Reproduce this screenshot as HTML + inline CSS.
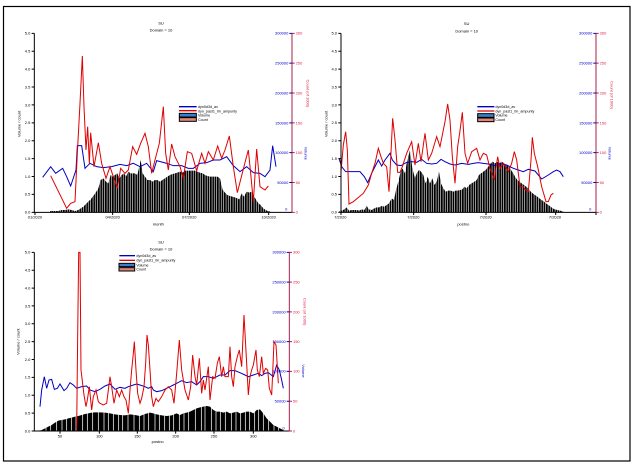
<!DOCTYPE html>
<html><head><meta charset="utf-8"><style>
html,body{margin:0;padding:0;background:#fff;}
svg{display:block;}
text{font-family:"Liberation Sans",sans-serif;}
</style></head><body>
<svg width="635" height="465" viewBox="0 0 635 465" xmlns="http://www.w3.org/2000/svg">
<defs>
<pattern id="bars" width="7" height="20" patternUnits="userSpaceOnUse"><rect x="0" y="0" width="5.3" height="20" fill="#000"/></pattern>
</defs>
<rect x="0" y="0" width="635" height="465" fill="#fff"/>
<rect x="3.5" y="6.5" width="626.5" height="454.5" fill="none" stroke="#000" stroke-width="1.2"/>

<!-- ================= CHART 1 ================= -->
<g transform="scale(0.33333)">
<polygon fill="url(#bars)" points="150,637 150,633 175,633 185,630 195,630 205,628 215,630 225,633 235,630 250,620 258,612 265,605 272,598 280,588 287,578 295,565 302,540 310,535 318,545 325,550 332,525 338,530 345,525 352,520 358,535 365,525 372,520 378,530 385,515 392,520 398,520 405,520 412,525 418,500 422,480 428,520 435,530 442,540 450,540 458,545 465,540 472,540 480,545 487,540 495,535 502,530 510,525 518,522 525,520 532,518 540,515 548,518 555,512 562,512 570,512 578,512 585,512 592,515 600,518 608,520 615,525 622,528 630,530 638,530 645,530 652,530 660,535 668,570 675,578 682,585 690,588 697,590 705,592 712,595 718,598 725,580 732,590 740,575 748,578 755,575 762,590 768,598 775,610 782,615 790,625 797,630 803,633 812,635 812,637"/>
<polyline fill="none" stroke="#0000c0" stroke-width="3" points="128,532 152,500 167,520 188,505 200,530 212,558 228,510 232,437 245,437 255,505 270,490 290,500 310,503 335,500 360,493 380,497 400,490 420,500 440,490 460,515 470,482 500,490 520,497 545,497 565,505 580,505 600,490 620,488 640,480 660,480 680,470 700,497 720,515 740,500 760,518 780,520 795,530 810,510 818,437 828,500"/>
<polyline fill="none" stroke="#e00000" stroke-width="3" points="152,527 200,625 212,610 225,605 232,460 240,310 247,168 252,320 258,450 263,380 268,490 272,398 282,500 295,428 305,490 318,535 330,500 340,530 352,565 362,505 375,520 385,510 398,440 410,463 422,430 435,400 445,440 455,520 465,480 478,430 490,320 497,460 505,510 515,432 525,470 540,500 550,535 562,455 575,460 590,512 605,460 615,490 625,455 640,480 653,438 665,475 675,450 688,408 700,500 712,578 725,527 737,480 745,450 752,520 760,605 770,447 780,560 795,570 805,558"/>
<!-- axes -->
<path d="M103 100V637H876" fill="none" stroke="#000" stroke-width="3"/>
<path d="M95 637H103M95 583.3H103M95 529.6H103M95 475.9H103M95 422.2H103M95 368.5H103M95 314.8H103M95 261.1H103M95 207.4H103M95 153.7H103M95 100H103" stroke="#000" stroke-width="3"/>
<path d="M105 637V645M338 637V645M568 637V645M806 637V645" stroke="#000" stroke-width="3"/>
<g font-size="12" text-anchor="end" fill="#000">
<text x="91" y="641">0.0</text><text x="91" y="587">0.5</text><text x="91" y="534">1.0</text><text x="91" y="480">1.5</text><text x="91" y="426">2.0</text><text x="91" y="372">2.5</text><text x="91" y="319">3.0</text><text x="91" y="265">3.5</text><text x="91" y="211">4.0</text><text x="91" y="158">4.5</text><text x="91" y="104">5.0</text>
</g>
<g font-size="12" text-anchor="middle" fill="#000">
<text x="105" y="656">01/2020</text><text x="338" y="656">04/2020</text><text x="568" y="656">07/2020</text><text x="806" y="656">10/2020</text>
<text x="475" y="677">month</text>
<text x="483" y="73">SU</text><text x="483" y="95">Domain = 10</text>
<text transform="translate(62,372) rotate(-90)">Volume / count</text>
</g>
<path d="M876 100V637" stroke="#a8204f" stroke-width="3"/>
<path d="M876 637H884M876 547.5H884M876 458H884M876 368.5H884M876 279H884M876 189.5H884M876 100H884" stroke="#a8204f" stroke-width="3"/>
<path d="M868 547.5H876M868 458H876M868 368.5H876M868 279H876M868 189.5H876M868 100H876" stroke="#0000c0" stroke-width="3"/>
<g font-size="12" fill="#e0204a">
<text x="887" y="641">0</text><text x="887" y="552">50</text><text x="887" y="462">100</text><text x="887" y="373">150</text><text x="887" y="283">200</text><text x="887" y="194">250</text><text x="887" y="104">300</text>
<text transform="translate(919,280) rotate(90)" text-anchor="middle">Count (of 1000)</text>
</g>
<g font-size="12" fill="#0000cc" text-anchor="end">
<text x="862" y="632">0</text><text x="865" y="552">50000</text><text x="865" y="462">100000</text><text x="865" y="373">150000</text><text x="865" y="283">200000</text><text x="865" y="194">250000</text><text x="865" y="104">300000</text>
<text transform="translate(914,460) rotate(90)" text-anchor="middle">Volume</text>
</g>
<!-- legend -->
<path d="M537 320H590" stroke="#0000c0" stroke-width="4"/>
<path d="M537 332H590" stroke="#e00000" stroke-width="4"/>
<rect x="538" y="340" width="51" height="11" fill="#3a80d0" stroke="#000" stroke-width="3"/>
<rect x="538" y="353" width="51" height="11" fill="#e08878" stroke="#000" stroke-width="3"/>
<g font-size="11" fill="#000">
<text x="594" y="324">dyn0d3d_av</text><text x="594" y="337">dyn_past1_0n_ampunty</text><text x="594" y="350">Volume</text><text x="594" y="363">Count</text>
</g>
</g>

<!-- ================= CHART 2 ================= -->
<g transform="translate(315,0) scale(0.33333)">
<polygon fill="url(#bars)" points="72,637 72,635 80,632 88,628 95,622 102,632 110,630 118,630 125,630 132,632 140,628 148,630 155,618 162,628 170,630 178,625 185,622 192,622 200,618 208,620 215,615 222,610 230,595 237,600 243,570 250,545 257,515 263,505 270,520 275,490 280,470 285,450 292,505 300,535 305,520 312,510 318,515 325,525 332,550 338,530 345,550 352,535 358,555 365,545 372,515 378,550 385,565 392,575 400,572 407,572 415,575 422,572 428,572 435,570 442,568 448,560 455,565 462,555 470,550 478,545 485,540 492,525 498,520 505,515 512,510 520,500 527,490 533,485 540,490 547,485 553,490 560,485 567,490 575,495 582,500 588,510 595,520 600,530 607,540 613,545 620,550 627,555 633,560 640,565 647,575 653,580 660,585 667,590 673,595 680,600 687,605 693,610 700,615 707,620 713,625 720,628 727,630 735,632 745,635 745,637"/>
<polyline fill="none" stroke="#0000c0" stroke-width="3" points="72,475 80,500 92,515 120,515 135,515 148,530 158,548 170,520 190,480 200,498 210,480 225,460 232,480 245,495 258,497 275,487 290,485 305,487 320,478 335,490 350,492 365,490 378,478 390,485 405,492 420,495 440,490 460,493 475,490 490,488 505,490 520,492 540,497 560,492 575,495 595,505 610,510 625,515 640,508 660,513 680,537 700,525 715,515 725,510 735,515 745,530"/>
<polyline fill="none" stroke="#e00000" stroke-width="3" points="78,515 85,435 92,395 97,450 102,612 115,605 145,580 160,555 170,520 180,490 190,445 198,470 205,490 215,500 222,575 225,518 233,355 240,420 248,517 255,517 262,500 275,460 290,425 300,495 310,430 318,485 330,400 340,480 350,460 365,410 375,440 390,365 398,312 405,360 412,470 420,550 428,440 435,392 442,337 450,460 458,490 470,455 485,445 495,480 505,460 515,465 525,505 538,540 548,470 555,505 565,490 580,515 590,490 598,455 605,480 615,560 625,560 632,570 640,575 648,480 652,412 658,460 668,500 680,560 693,605 700,605 708,585 715,580"/>
<path d="M78 100V637H843" fill="none" stroke="#000" stroke-width="3"/>
<path d="M70 637H78M70 583.3H78M70 529.6H78M70 475.9H78M70 422.2H78M70 368.5H78M70 314.8H78M70 261.1H78M70 207.4H78M70 153.7H78M70 100H78" stroke="#000" stroke-width="3"/>
<path d="M78 637V645M296 637V645M513 637V645M722 637V645M843 637V645" stroke="#000" stroke-width="3"/>
<g font-size="12" text-anchor="end" fill="#000">
<text x="66" y="641">0.0</text><text x="66" y="587">0.5</text><text x="66" y="534">1.0</text><text x="66" y="480">1.5</text><text x="66" y="426">2.0</text><text x="66" y="372">2.5</text><text x="66" y="319">3.0</text><text x="66" y="265">3.5</text><text x="66" y="211">4.0</text><text x="66" y="158">4.5</text><text x="66" y="104">5.0</text>
</g>
<g font-size="12" text-anchor="middle" fill="#000">
<text x="76" y="656">7/2020</text><text x="295" y="656">7/2020</text><text x="512" y="656">7/2020</text><text x="720" y="656">7/2020</text>
<text x="445" y="677">postno</text>
<text x="455" y="75">SU</text><text x="455" y="97">Domain = 10</text>
<text transform="translate(37,372) rotate(-90)">Volume / count</text>
</g>
<path d="M843 100V637" stroke="#a8204f" stroke-width="3"/>
<path d="M843 637H851M843 547.5H851M843 458H851M843 368.5H851M843 279H851M843 189.5H851M843 100H851" stroke="#a8204f" stroke-width="3"/>
<path d="M835 547.5H843M835 458H843M835 368.5H843M835 279H843M835 189.5H843M835 100H843" stroke="#0000c0" stroke-width="3"/>
<g font-size="12" fill="#e0204a">
<text x="854" y="641">0</text><text x="854" y="552">50</text><text x="854" y="462">100</text><text x="854" y="373">150</text><text x="854" y="283">200</text><text x="854" y="194">250</text><text x="854" y="104">300</text>
<text transform="translate(886,285) rotate(90)" text-anchor="middle">Count (of 1000)</text>
</g>
<g font-size="12" fill="#0000cc" text-anchor="end">
<text x="829" y="632">0</text><text x="832" y="552">50000</text><text x="832" y="462">100000</text><text x="832" y="373">150000</text><text x="832" y="283">200000</text><text x="832" y="194">250000</text><text x="832" y="104">300000</text>
<text transform="translate(881,460) rotate(90)" text-anchor="middle">Volume</text>
</g>
<path d="M487 320H538" stroke="#0000c0" stroke-width="4"/>
<path d="M487 333H538" stroke="#e00000" stroke-width="4"/>
<rect x="488" y="341" width="49" height="11" fill="#3a80d0" stroke="#000" stroke-width="3"/>
<rect x="488" y="354" width="49" height="11" fill="#e08878" stroke="#000" stroke-width="3"/>
<g font-size="11" fill="#000">
<text x="541" y="324">dyn0d3d_av</text><text x="541" y="337">dyn_past1_0n_ampunty</text><text x="541" y="350">Volume</text><text x="541" y="363">Count</text>
</g>
</g>

<!-- ================= CHART 3 ================= -->
<g transform="translate(0,230) scale(0.33333)">
<polygon fill="#000" points="115,603 115,602 125,600 135,595 145,590 155,585 165,578 175,572 185,570 195,568 205,565 215,563 225,560 235,558 245,555 255,552 265,550 275,548 285,547 300,547 315,548 330,550 345,553 360,555 375,556 390,553 405,555 420,558 435,552 450,548 460,550 470,553 485,556 500,558 515,556 525,552 530,550 540,555 550,550 560,548 570,545 580,540 590,535 600,532 610,530 620,528 630,530 640,540 650,545 660,545 670,548 680,545 690,550 700,548 710,545 720,550 730,548 740,545 750,545 760,550 770,540 780,538 790,550 800,565 810,575 820,585 830,590 840,595 850,600 852,603"/>
<path d="M123 560V603M138 570V603M152 560V603M170 555V603M186 560V603M200 545V603M214 545V603M228 545V603M248 540V603M262 540V603M278 540V603M295 540V603M312 540V603M325 545V603M340 545V603M356 545V603M368 550V603M384 545V603M402 548V603M418 545V603M432 540V603M446 540V603M465 545V603M478 550V603M494 550V603M508 548V603M521 540V603M538 545V603M552 540V603M566 540V603M586 530V603M604 525V603M615 525V603M634 525V603M648 540V603M661 540V603M676 540V603M694 540V603M708 540V603M722 540V603M736 540V603M749 540V603M764 540V603M776 535V603M790 545V603M806 565V603M822 580V603M836 590V603" stroke="#fff" stroke-width="2.2"/>
<polyline fill="none" stroke="#0000c0" stroke-width="3" points="120,530 125,480 133,440 140,475 147,450 155,448 163,478 172,475 180,462 192,482 200,475 210,458 220,465 230,475 245,470 260,468 270,480 285,485 300,478 315,468 330,462 345,478 360,472 375,475 385,470 400,465 410,462 420,465 435,470 445,475 455,470 460,480 470,485 485,482 500,475 510,470 520,465 530,460 545,452 560,458 575,455 590,465 600,455 610,440 625,440 640,445 650,440 660,435 675,435 690,422 705,422 720,428 735,435 745,440 760,435 775,430 785,437 795,430 805,428 820,440 830,405 838,420 845,450 850,475"/>
<polyline fill="none" stroke="#e00000" stroke-width="3" points="230,597 233,320 236,67 240,67 243,420 252,495 258,530 262,510 268,470 275,540 280,500 288,480 295,515 300,520 310,525 320,520 330,440 335,470 342,520 350,480 358,500 365,480 372,500 378,510 385,550 390,480 395,420 400,370 403,335 408,420 413,490 420,520 425,505 432,470 437,400 441,315 445,345 450,420 455,500 460,530 468,505 475,515 485,500 495,480 505,470 515,480 522,520 530,430 538,330 545,420 550,450 555,480 565,510 572,470 578,375 585,440 590,465 598,385 605,490 610,450 615,480 625,410 630,510 638,440 645,445 652,400 658,380 665,440 670,410 675,440 685,440 690,350 695,440 700,470 705,410 712,380 718,360 725,410 732,255 740,400 745,495 750,440 755,420 760,405 768,360 772,420 778,440 785,380 790,430 797,415 803,420 808,475 815,495 818,430 822,335 828,345 835,460"/>
<path d="M103 67V603H868" fill="none" stroke="#000" stroke-width="3"/>
<path d="M95 603H103M95 549.4H103M95 495.8H103M95 442.2H103M95 388.6H103M95 335H103M95 281.4H103M95 227.8H103M95 174.2H103M95 120.6H103M95 67H103" stroke="#000" stroke-width="3"/>
<path d="M180 603V611M298 603V611M412 603V611M527 603V611M642 603V611M760 603V611" stroke="#000" stroke-width="3"/>
<g font-size="12" text-anchor="end" fill="#000">
<text x="91" y="607">0.0</text><text x="91" y="553">0.5</text><text x="91" y="500">1.0</text><text x="91" y="446">1.5</text><text x="91" y="393">2.0</text><text x="91" y="339">2.5</text><text x="91" y="285">3.0</text><text x="91" y="232">3.5</text><text x="91" y="178">4.0</text><text x="91" y="125">4.5</text><text x="91" y="71">5.0</text>
</g>
<g font-size="12" text-anchor="middle" fill="#000">
<text x="180" y="622">50</text><text x="298" y="622">100</text><text x="412" y="622">150</text><text x="527" y="622">200</text><text x="642" y="622">250</text><text x="760" y="622">300</text>
<text x="473" y="639">postno</text>
<text x="483" y="40">SU</text><text x="483" y="61">Domain = 10</text>
<text transform="translate(58,335) rotate(-90)">Volume / count</text>
</g>
<path d="M868 67V603" stroke="#a8204f" stroke-width="3"/>
<path d="M868 603H876M868 513.7H876M868 424.3H876M868 335H876M868 245.7H876M868 156.3H876M868 67H876" stroke="#a8204f" stroke-width="3"/>
<path d="M860 513.7H868M860 424.3H868M860 335H868M860 245.7H868M860 156.3H868M860 67H868" stroke="#0000c0" stroke-width="3"/>
<g font-size="12" fill="#e0204a">
<text x="879" y="607">0</text><text x="879" y="518">50</text><text x="879" y="428">100</text><text x="879" y="339">150</text><text x="879" y="250">200</text><text x="879" y="160">250</text><text x="879" y="71">300</text>
<text transform="translate(911,245) rotate(90)" text-anchor="middle">Count (of 1000)</text>
</g>
<g font-size="12" fill="#0000cc" text-anchor="end">
<text x="854" y="598">0</text><text x="857" y="518">50000</text><text x="857" y="428">100000</text><text x="857" y="339">150000</text><text x="857" y="250">200000</text><text x="857" y="160">250000</text><text x="857" y="71">300000</text>
<text transform="translate(906,423) rotate(90)" text-anchor="middle">Volume</text>
</g>
<path d="M358 77H405" stroke="#0000c0" stroke-width="4"/>
<path d="M358 91H405" stroke="#e00000" stroke-width="4"/>
<rect x="357" y="100" width="47" height="10" fill="#3a80d0" stroke="#000" stroke-width="3"/>
<rect x="357" y="113" width="47" height="10" fill="#e08878" stroke="#000" stroke-width="3"/>
<g font-size="11" fill="#000">
<text x="409" y="81">dyn0d3d_av</text><text x="409" y="95">dyn_past1_0n_ampunty</text><text x="409" y="109">Volume</text><text x="409" y="122">Count</text>
</g>
</g>
</svg>
</body></html>
